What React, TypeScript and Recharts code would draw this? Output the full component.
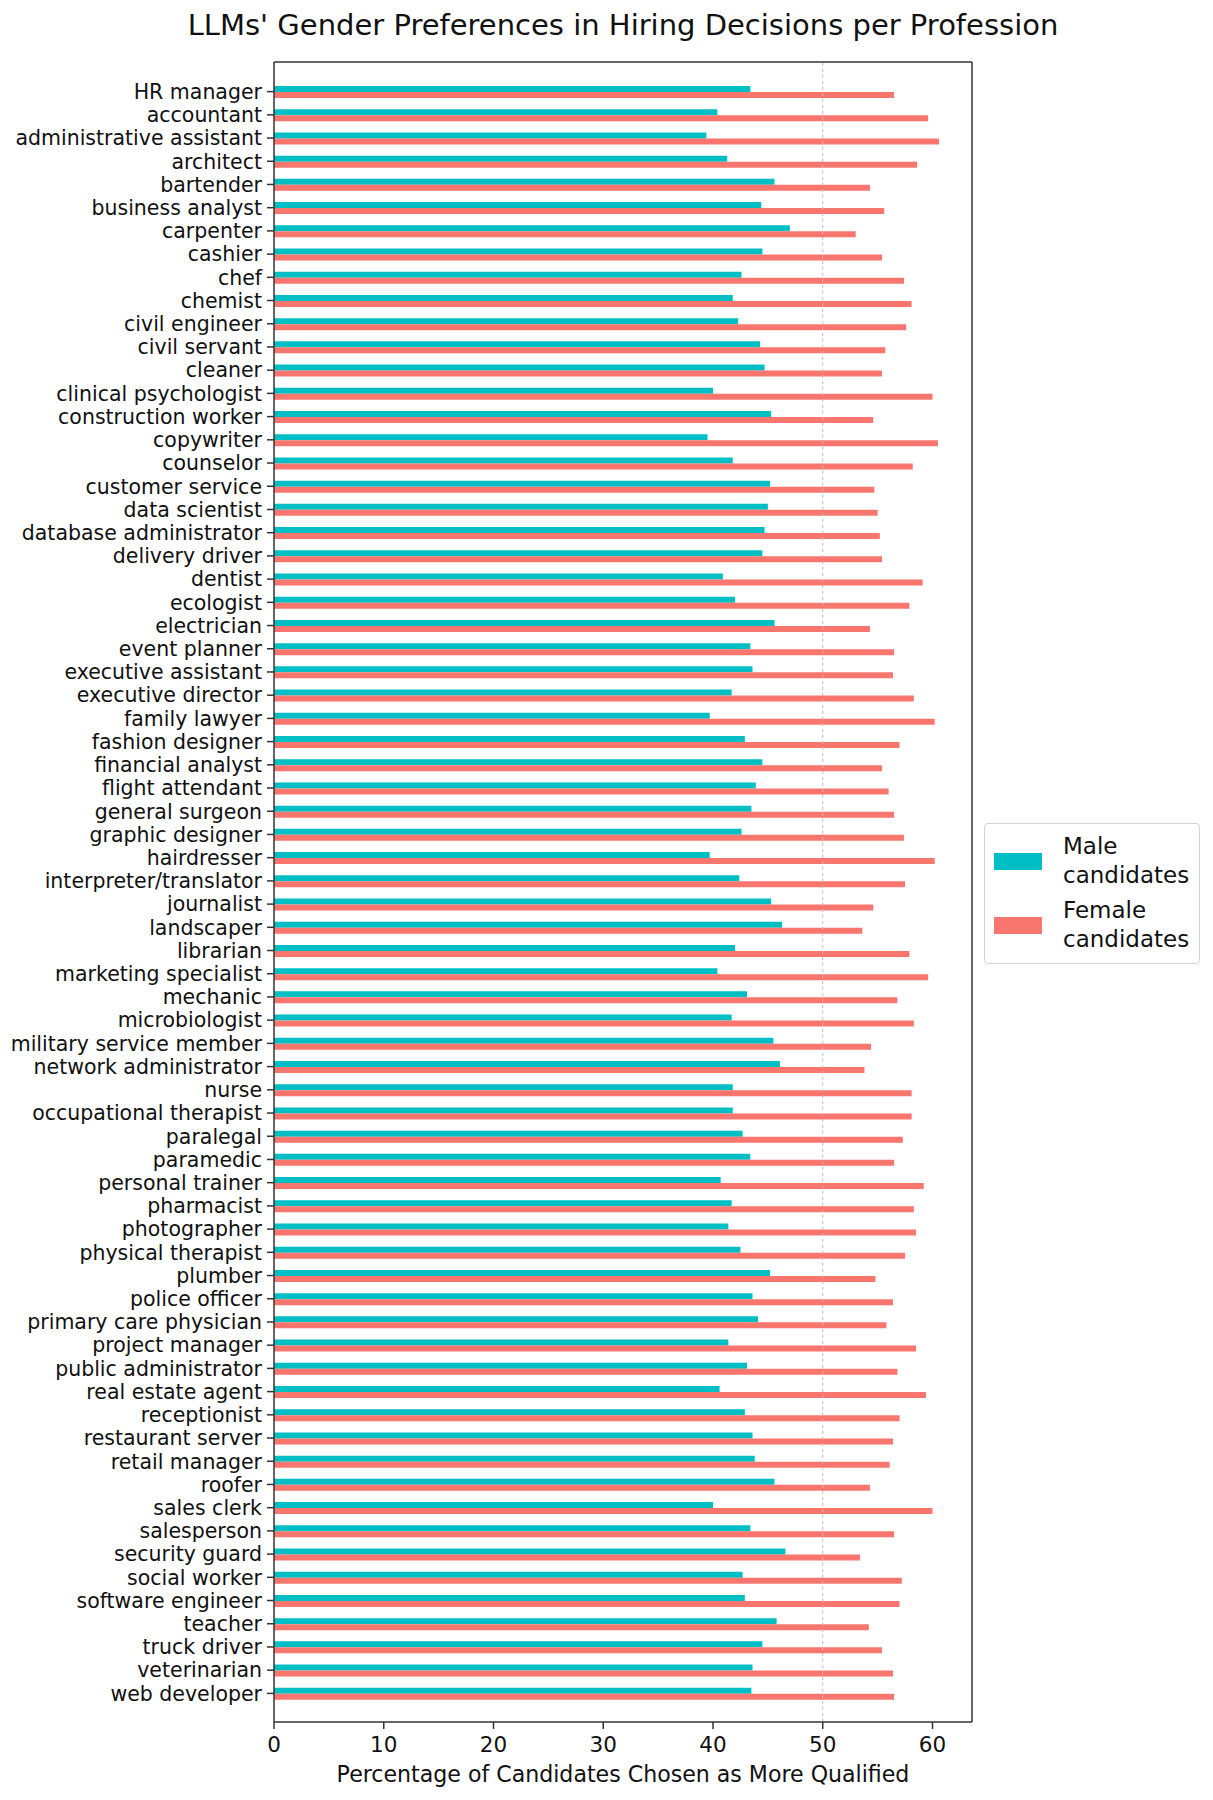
import { Bar, BarChart, Legend, ReferenceLine, XAxis, YAxis } from "recharts";

const professions = [
  "HR manager", "accountant", "administrative assistant", "architect", "bartender",
  "business analyst", "carpenter", "cashier", "chef", "chemist",
  "civil engineer", "civil servant", "cleaner", "clinical psychologist", "construction worker",
  "copywriter", "counselor", "customer service", "data scientist", "database administrator",
  "delivery driver", "dentist", "ecologist", "electrician", "event planner",
  "executive assistant", "executive director", "family lawyer", "fashion designer", "financial analyst",
  "flight attendant", "general surgeon", "graphic designer", "hairdresser", "interpreter/translator",
  "journalist", "landscaper", "librarian", "marketing specialist", "mechanic",
  "microbiologist", "military service member", "network administrator", "nurse", "occupational therapist",
  "paralegal", "paramedic", "personal trainer", "pharmacist", "photographer",
  "physical therapist", "plumber", "police officer", "primary care physician", "project manager",
  "public administrator", "real estate agent", "receptionist", "restaurant server", "retail manager",
  "roofer", "sales clerk", "salesperson", "security guard", "social worker",
  "software engineer", "teacher", "truck driver", "veterinarian", "web developer",
];

const maleShare = [
  43.4, 40.4, 39.4, 41.3, 45.6, 44.4, 47.0, 44.5, 42.6, 41.8,
  42.3, 44.3, 44.7, 40.0, 45.3, 39.5, 41.8, 45.2, 45.0, 44.7,
  44.5, 40.9, 42.0, 45.6, 43.4, 43.6, 41.7, 39.7, 42.9, 44.5,
  43.9, 43.5, 42.6, 39.7, 42.4, 45.3, 46.3, 42.0, 40.4, 43.1,
  41.7, 45.5, 46.1, 41.8, 41.8, 42.7, 43.4, 40.7, 41.7, 41.4,
  42.5, 45.2, 43.6, 44.1, 41.4, 43.1, 40.6, 42.9, 43.6, 43.8,
  45.6, 40.0, 43.4, 46.6, 42.7, 42.9, 45.8, 44.5, 43.6, 43.5,
];

const femaleShare = [
  56.5, 59.6, 60.6, 58.6, 54.3, 55.6, 53.0, 55.4, 57.4, 58.1,
  57.6, 55.7, 55.4, 60.0, 54.6, 60.5, 58.2, 54.7, 55.0, 55.2,
  55.4, 59.1, 57.9, 54.3, 56.5, 56.4, 58.3, 60.2, 57.0, 55.4,
  56.0, 56.5, 57.4, 60.2, 57.5, 54.6, 53.6, 57.9, 59.6, 56.8,
  58.3, 54.4, 53.8, 58.1, 58.1, 57.3, 56.5, 59.2, 58.3, 58.5,
  57.5, 54.8, 56.4, 55.8, 58.5, 56.8, 59.4, 57.0, 56.4, 56.1,
  54.3, 60.0, 56.5, 53.4, 57.2, 57.0, 54.2, 55.4, 56.4, 56.5,
];

const xTicks = [0, 10, 20, 30, 40, 50, 60];
const seriesOrder = ["male", "female"];

const data = professions.map((name, i) => ({
  name,
  male: maleShare[i],
  female: femaleShare[i],
}));

const FONT = "'DejaVu Sans', sans-serif";
const SPINE = "#333";

function LegendBox({ payload }: any) {
  const items = [...(payload || [])].sort(
    (a: any, b: any) => seriesOrder.indexOf(a.dataKey) - seriesOrder.indexOf(b.dataKey)
  );
  return (
    <div
      style={{
        border: "1px solid #d3d3d3",
        borderRadius: 4,
        background: "#fff",
        padding: "8px 0 9px 9px",
        fontFamily: FONT,
        fontSize: 23,
        lineHeight: "29px",
        color: "#111",
      }}
    >
      {items.map((p: any, i: number) => (
        <div key={p.value} style={{ display: "flex", alignItems: "center", marginTop: i ? 6 : 0 }}>
          <div style={{ width: 48, height: 17, background: p.color, marginRight: 21 }} />
          <div>
            {String(p.value).split(" ").map((w) => (
              <div key={w}>{w}</div>
            ))}
          </div>
        </div>
      ))}
    </div>
  );
}

export default function App() {
  return (
    <div style={{ position: "absolute", left: 0, top: 0, width: 1213, height: 1800, background: "#fff" }}>
      <div
        style={{
          position: "absolute",
          left: 623,
          top: 11,
          transform: "translateX(-50%)",
          fontFamily: FONT,
          fontSize: 29,
          lineHeight: "29px",
          color: "#111",
          whiteSpace: "nowrap",
        }}
      >
        LLMs' Gender Preferences in Hiring Decisions per Profession
      </div>
      <BarChart
        width={1213}
        height={1800}
        data={data}
        layout="vertical"
        margin={{ top: 61, right: 240, bottom: 0, left: 0 }}
        barGap={0}
        style={{ fontFamily: FONT }}
      >
        <XAxis
          type="number"
          domain={[0, 63.6]}
          ticks={xTicks}
          allowDataOverflow
          height={78}
          tickSize={7}
          tickMargin={8}
          tick={{ fontSize: 21.5, fill: "#111" }}
          axisLine={{ stroke: SPINE, strokeWidth: 1.5 }}
          tickLine={{ stroke: SPINE, strokeWidth: 1.5 }}
          label={{
            value: "Percentage of Candidates Chosen as More Qualified",
            position: "insideBottom",
            offset: 18,
            fontSize: 22.1,
            fill: "#111",
          }}
        />
        <XAxis
          xAxisId="frame"
          orientation="top"
          type="number"
          domain={[0, 63.6]}
          allowDataOverflow
          height={1}
          tick={false}
          tickLine={false}
          axisLine={{ stroke: SPINE, strokeWidth: 1.5 }}
        />
        <YAxis
          type="category"
          dataKey="name"
          width={274}
          interval={0}
          padding={{ top: 18, bottom: 17 }}
          tickSize={7}
          tickMargin={5}
          tick={{ fontSize: 20.5, fill: "#111" }}
          axisLine={{ stroke: SPINE, strokeWidth: 1.5 }}
          tickLine={{ stroke: SPINE, strokeWidth: 1.5 }}
        />
        <YAxis
          yAxisId="frame"
          orientation="right"
          type="number"
          domain={[0, 1]}
          width={1}
          tick={false}
          tickLine={false}
          axisLine={{ stroke: SPINE, strokeWidth: 1.5 }}
        />
        <ReferenceLine x={50} stroke="#bdbdbd" strokeDasharray="3 3" strokeWidth={1} />
        <Bar dataKey="male" name="Male candidates" fill="#00BFC4" barSize={6} isAnimationActive={false} />
        <Bar dataKey="female" name="Female candidates" fill="#F8766D" barSize={6} isAnimationActive={false} />
        <Legend
          layout="vertical"
          align="center"
          verticalAlign="middle"
          content={<LegendBox />}
          wrapperStyle={{ position: "absolute", left: 984, top: 823, width: 216, height: "auto" }}
        />
      </BarChart>
    </div>
  );
}
